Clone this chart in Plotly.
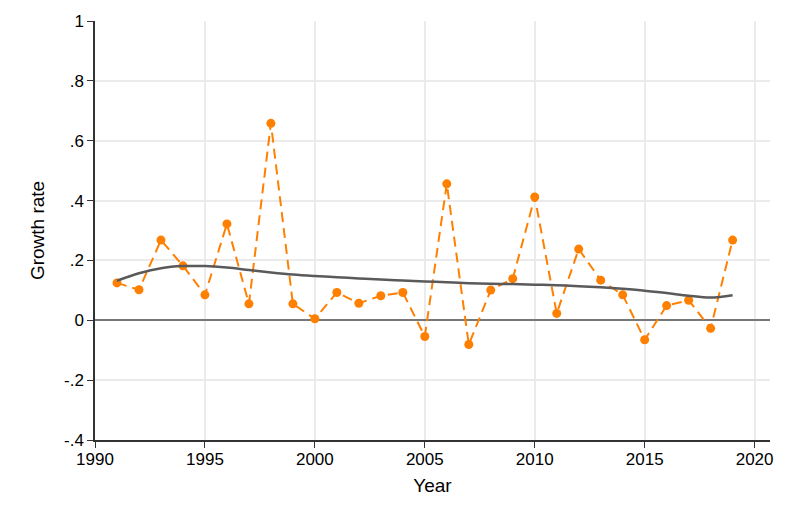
import plotly.graph_objects as go

years = list(range(1991, 2020))
growth = [0.125, 0.102, 0.268, 0.182, 0.085, 0.322, 0.055, 0.658, 0.055, 0.005,
          0.093, 0.057, 0.082, 0.093, -0.054, 0.456, -0.081, 0.101, 0.139, 0.412,
          0.023, 0.238, 0.134, 0.085, -0.065, 0.049, 0.067, -0.027, 0.268]
smooth = [0.132, 0.157, 0.174, 0.181, 0.181, 0.176, 0.168, 0.160, 0.153, 0.148,
          0.144, 0.140, 0.136, 0.133, 0.130, 0.127, 0.124, 0.122, 0.121, 0.119,
          0.117, 0.114, 0.110, 0.105, 0.099, 0.091, 0.082, 0.076, 0.084]

y_ticks = [-0.4, -0.2, 0, 0.2, 0.4, 0.6, 0.8, 1]
y_labels = ["-.4", "-.2", "0", ".2", ".4", ".6", ".8", "1"]
x_ticks = [1990, 1995, 2000, 2005, 2010, 2015, 2020]

fig = go.Figure()
fig.add_trace(go.Scatter(x=years, y=growth, mode="lines+markers",
                         line=dict(color="#ff8000", width=2, dash="10px,6px"),
                         marker=dict(color="#ff8000", size=9)))
fig.add_trace(go.Scatter(x=years, y=smooth, mode="lines",
                         line=dict(color="#5a5a5a", width=2.5, shape="spline")))

fig.update_layout(
    width=789, height=526,
    margin=dict(l=95, r=19, t=19, b=86),
    paper_bgcolor="white", plot_bgcolor="white",
    showlegend=False,
    font=dict(family="Liberation Sans, Arial, sans-serif", color="black", size=17),
)
fig.update_xaxes(range=[1990, 2020.7], tickvals=x_ticks, showgrid=True,
                 gridcolor="#ebebeb", gridwidth=1.5, showline=True, linecolor="#333",
                 linewidth=1.5, ticks="outside", ticklen=6, tickcolor="#333",
                 ticklabelstandoff=-3,
                 zeroline=False, title=dict(text="Year", font=dict(size=19), standoff=11))
fig.update_yaxes(range=[-0.4, 1], tickvals=y_ticks, ticktext=y_labels, showgrid=True,
                 gridcolor="#ebebeb", gridwidth=1.5, showline=True, linecolor="#333",
                 linewidth=1.5, ticks="outside", ticklen=6, tickcolor="#333",
                 zeroline=True, zerolinecolor="#777", zerolinewidth=1.5,
                 title=dict(text="Growth rate", font=dict(size=19), standoff=14))

fig.write_html("out.html", config={"displayModeBar": False},
               post_script="document.body.style.margin='0';document.body.style.overflow='hidden';")
